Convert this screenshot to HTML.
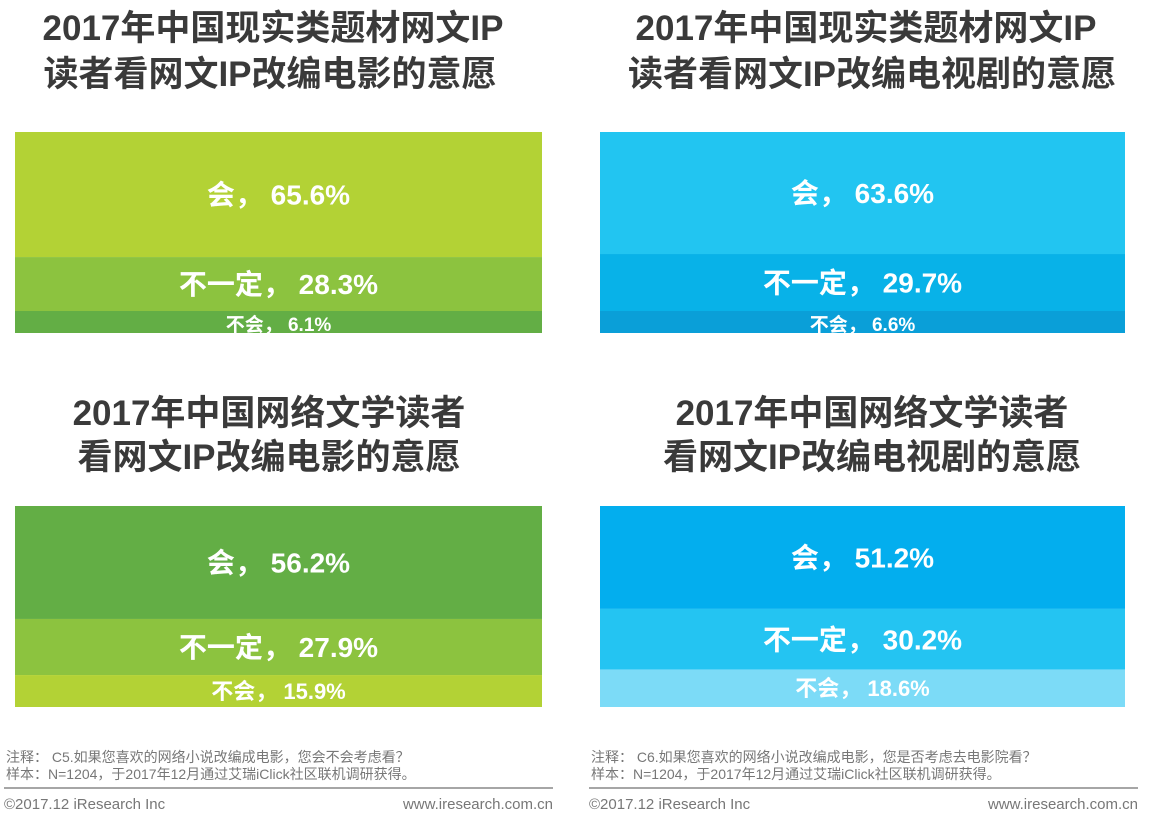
<!DOCTYPE html>
<html><head><meta charset="utf-8">
<style>
html,body{margin:0;padding:0;background:#fff;}
body{width:1155px;height:819px;overflow:hidden;font-family:"Liberation Sans","Noto Sans CJK SC",sans-serif;}
svg text{font-family:"Liberation Sans","Noto Sans CJK SC",sans-serif;}
</style></head>
<body>
<svg id="chart" width="1155" height="819" xmlns="http://www.w3.org/2000/svg">
  <g font-size="35" font-weight="bold" fill="#3a3a3a" text-anchor="middle">
    <text x="273" y="40">2017年中国现实类题材网文IP</text>
    <text x="270" y="86">读者看网文IP改编电影的意愿</text>
  </g>
  <g font-size="35" font-weight="bold" fill="#3a3a3a" text-anchor="middle">
    <text x="866" y="40">2017年中国现实类题材网文IP</text>
    <text x="872" y="86">读者看网文IP改编电视剧的意愿</text>
  </g>
  <g font-size="35" font-weight="bold" fill="#3a3a3a" text-anchor="middle">
    <text x="269" y="425">2017年中国网络文学读者</text>
    <text x="269" y="469">看网文IP改编电影的意愿</text>
  </g>
  <g font-size="35" font-weight="bold" fill="#3a3a3a" text-anchor="middle">
    <text x="872" y="425">2017年中国网络文学读者</text>
    <text x="872" y="469">看网文IP改编电视剧的意愿</text>
  </g>
  <g id="bars"></g>
  <g font-size="14" fill="#777">
    <text x="6" y="762">注释： C5.如果您喜欢的网络小说改编成电影，您会不会考虑看？</text>
    <text x="6" y="779">样本：N=1204，于2017年12月通过艾瑞iClick社区联机调研获得。</text>
    <line x1="4" y1="788" x2="553" y2="788" stroke="#888" stroke-width="1.5"/>
    <text x="4" y="809" font-size="15">©2017.12 iResearch Inc</text>
    <text x="553" y="809" font-size="15" text-anchor="end">www.iresearch.com.cn</text>
  </g>
  <g font-size="14" fill="#777">
    <text x="591" y="762">注释： C6.如果您喜欢的网络小说改编成电影，您是否考虑去电影院看？</text>
    <text x="591" y="779">样本：N=1204，于2017年12月通过艾瑞iClick社区联机调研获得。</text>
    <line x1="589" y1="788" x2="1138" y2="788" stroke="#888" stroke-width="1.5"/>
    <text x="589" y="809" font-size="15">©2017.12 iResearch Inc</text>
    <text x="1138" y="809" font-size="15" text-anchor="end">www.iresearch.com.cn</text>
  </g>
</svg>
<script>
const categories = ["会", "不一定", "不会"];
const valuesTopLeft = [65.6, 28.3, 6.1];
const valuesTopRight = [63.6, 29.7, 6.6];
const valuesBottomLeft = [56.2, 27.9, 15.9];
const valuesBottomRight = [51.2, 30.2, 18.6];

const panels = [
  {name:"top-left", vals:valuesTopLeft, x:15, y:132, w:527, h:201, colors:["#b3d235","#8cc33f","#63ae45"]},
  {name:"top-right", vals:valuesTopRight, x:600, y:132, w:525, h:201, colors:["#22c5f1","#08b2e8","#0a9fd8"]},
  {name:"bottom-left", vals:valuesBottomLeft, x:15, y:506, w:527, h:201, colors:["#63ae45","#8cc33f","#b3d235"]},
  {name:"bottom-right", vals:valuesBottomRight, x:600, y:506, w:525, h:201, colors:["#03aeee","#24c4f2","#7cdbf7"]}
];
const NS = "http://www.w3.org/2000/svg";
const root = document.getElementById("bars");
const MINH = 22;
panels.forEach(p => {
  const total = p.vals.reduce((a,b)=>a+b,0);
  let hs = p.vals.map(v => p.h * v / total);
  const small = hs.map(h => h < MINH);
  if (small.some(s=>s)) {
    const fixed = small.filter(s=>s).length * MINH;
    const restTotal = p.vals.reduce((a,v,i)=>small[i]?a:a+v,0);
    hs = p.vals.map((v,i)=> small[i] ? MINH : (p.h - fixed) * v / restTotal);
  }
  const g = document.createElementNS(NS,"g");
  
  
  root.appendChild(g);
  let y = p.y;
  p.vals.forEach((v,i) => {
    const r = document.createElementNS(NS,"rect");
    r.setAttribute("x", p.x); r.setAttribute("y", y);
    r.setAttribute("width", p.w); r.setAttribute("height", hs[i]);
    r.setAttribute("fill", p.colors[i]);
    
    
    g.appendChild(r);
    const fs = hs[i] < 30 ? 19 : (hs[i] < 45 ? 22 : 28);
    const t = document.createElementNS(NS,"text");
    t.setAttribute("x", p.x + p.w/2);
    t.setAttribute("y", y + hs[i]/2 + fs*0.36 + (hs[i] < 30 ? 2 : 0));
    t.setAttribute("text-anchor","middle");
    t.setAttribute("fill","#fff");
    t.setAttribute("font-weight","bold");
    t.setAttribute("font-size", fs);
    t.textContent = categories[i] + "， " + v.toFixed(1) + "%";
    
    
    g.appendChild(t);
    y += hs[i];
  });
});
</script>
</body></html>
